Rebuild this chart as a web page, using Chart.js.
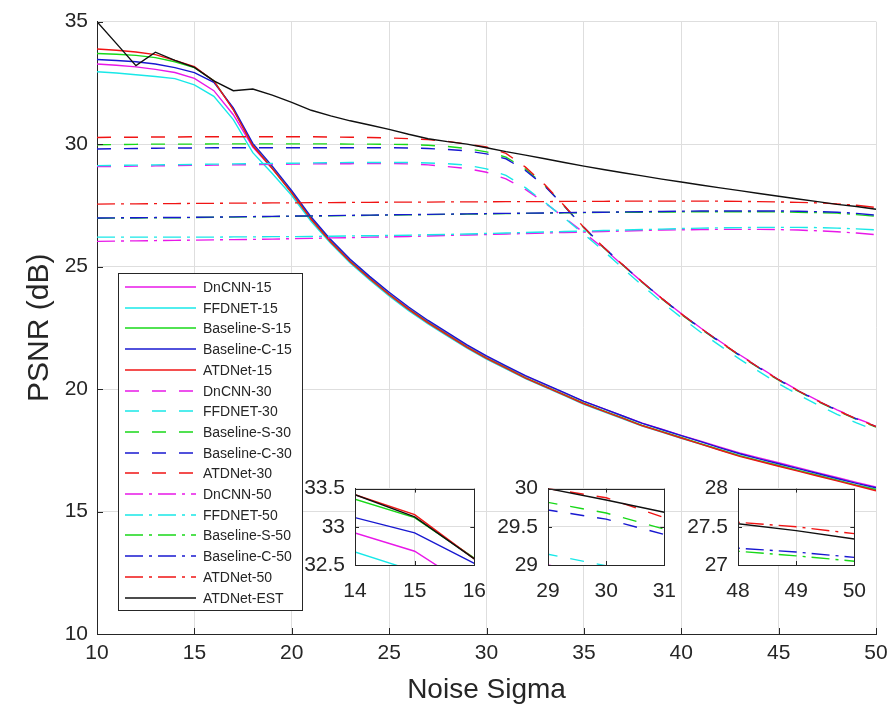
<!DOCTYPE html>
<html lang="en">
<head>
<meta charset="UTF-8">
<title>PSNR vs Noise Sigma</title>
<script src="https://cdn.jsdelivr.net/npm/chart.js"></script>
<style>
  html, body { margin: 0; padding: 0; background: #fff; }
  #wrap { position: relative; width: 896px; height: 712px; overflow: hidden; }
  #wrap canvas { position: absolute; }
</style>
</head>
<body>
<div id="wrap">
  <canvas id="main" width="896" height="712" style="left:0;top:0"></canvas>
  <canvas id="zoomA"></canvas>
  <canvas id="zoomB"></canvas>
  <canvas id="zoomC"></canvas>
</div>

<script>
// noise levels the models were tested at
const sigma = [10,11,12,13,14,15,16,17,18,19,
               20,21,22,23,24,25,26,27,28,29,
               30,31,32,33,34,35,36,37,38,39,
               40,41,42,43,44,45,46,47,48,49,50];

// models trained at sigma = 15
const dncnn15 = [33.27,33.22,33.15,33.05,32.92,32.68,32.18,31.20,29.88,29.00,
                 28.05,26.97,26.05,25.25,24.55,23.90,23.30,22.75,22.25,21.77,
                 21.32,20.92,20.53,20.18,19.83,19.50,19.20,18.90,18.61,18.36,
                 18.11,17.87,17.63,17.39,17.19,16.99,16.79,16.59,16.39,16.19,16.00];
const ffdnet15 = [32.95,32.90,32.83,32.76,32.67,32.42,31.95,31.00,29.65,28.80,
                  27.90,26.84,25.95,25.15,24.45,23.80,23.20,22.66,22.16,21.67,
                  21.22,20.82,20.43,20.08,19.73,19.38,19.08,18.78,18.49,18.24,
                  17.99,17.75,17.51,17.27,17.07,16.87,16.67,16.47,16.27,16.07,15.90];
const baseS15 = [33.70,33.67,33.62,33.53,33.36,33.12,32.59,31.42,29.95,29.02,
                 28.02,26.94,26.02,25.22,24.52,23.87,23.27,22.72,22.22,21.72,
                 21.27,20.87,20.47,20.12,19.77,19.42,19.12,18.82,18.52,18.27,
                 18.02,17.77,17.52,17.28,17.08,16.88,16.68,16.48,16.28,16.08,15.90];
const baseC15 = [33.45,33.41,33.36,33.27,33.12,32.92,32.52,31.48,30.03,29.10,
                 28.10,27.02,26.10,25.30,24.60,23.95,23.35,22.80,22.30,21.80,
                 21.35,20.95,20.55,20.20,19.85,19.50,19.20,18.90,18.60,18.35,
                 18.10,17.85,17.60,17.36,17.15,16.95,16.75,16.55,16.35,16.15,15.97];
const atd15 = [33.88,33.83,33.76,33.65,33.42,33.16,32.58,31.40,29.93,29.00,
               28.00,26.92,26.00,25.20,24.50,23.85,23.25,22.70,22.20,21.70,
               21.25,20.85,20.45,20.10,19.75,19.40,19.10,18.80,18.50,18.25,
               18.00,17.75,17.50,17.25,17.05,16.85,16.65,16.45,16.25,16.05,15.85];

// models trained at sigma = 30
const dncnn30 = [29.08,29.09,29.10,29.11,29.12,29.13,29.14,29.15,29.16,29.17,
                 29.18,29.19,29.20,29.20,29.21,29.21,29.19,29.15,29.08,29.00,
                 28.85,28.58,28.15,27.60,27.00,26.38,25.75,25.05,24.37,23.70,
                 23.08,22.49,21.94,21.40,20.89,20.40,19.95,19.54,19.15,18.80,18.50];
const ffdnet30 = [29.12,29.13,29.14,29.15,29.16,29.17,29.18,29.19,29.20,29.21,
                  29.22,29.23,29.24,29.25,29.25,29.25,29.25,29.23,29.20,29.14,
                  28.99,28.72,28.22,27.62,26.98,26.32,25.65,24.93,24.23,23.55,
                  22.92,22.32,21.76,21.22,20.71,20.22,19.77,19.36,18.97,18.62,18.30];
const baseS30 = [29.97,29.98,29.99,30.00,30.00,30.00,30.01,30.01,30.01,30.01,
                 30.01,30.01,30.01,30.00,30.00,29.99,29.98,29.95,29.90,29.82,
                 29.68,29.47,28.98,28.30,27.46,26.58,25.78,25.05,24.35,23.68,
                 23.05,22.46,21.90,21.36,20.85,20.36,19.91,19.50,19.11,18.76,18.45];
const baseC30 = [29.80,29.81,29.82,29.83,29.84,29.84,29.85,29.85,29.85,29.85,
                 29.85,29.85,29.85,29.85,29.85,29.85,29.84,29.82,29.78,29.72,
                 29.60,29.40,28.92,28.28,27.46,26.60,25.80,25.07,24.37,23.70,
                 23.07,22.48,21.92,21.38,20.87,20.38,19.93,19.52,19.13,18.78,18.47];
const atd30 = [30.27,30.28,30.28,30.29,30.29,30.30,30.30,30.30,30.30,30.30,
               30.30,30.30,30.29,30.28,30.27,30.25,30.22,30.18,30.11,30.00,
               29.88,29.62,29.06,28.34,27.48,26.60,25.80,25.07,24.37,23.70,
               23.07,22.48,21.92,21.38,20.87,20.38,19.93,19.52,19.13,18.78,18.47];

// models trained at sigma = 50
const dncnn50 = [26.03,26.04,26.05,26.06,26.07,26.08,26.09,26.10,26.11,26.12,
                 26.14,26.15,26.17,26.18,26.20,26.21,26.23,26.25,26.27,26.29,
                 26.31,26.33,26.35,26.37,26.39,26.41,26.43,26.45,26.47,26.49,
                 26.50,26.51,26.52,26.52,26.52,26.51,26.49,26.46,26.42,26.37,26.30];
const ffdnet50 = [26.20,26.20,26.20,26.20,26.20,26.20,26.20,26.21,26.21,26.22,
                  26.22,26.23,26.24,26.25,26.26,26.27,26.28,26.30,26.31,26.33,
                  26.35,26.37,26.39,26.41,26.43,26.45,26.47,26.49,26.51,26.53,
                  26.55,26.57,26.58,26.59,26.60,26.60,26.60,26.59,26.57,26.54,26.50];
const baseS50 = [26.97,26.98,26.98,26.99,26.99,27.00,27.01,27.02,27.03,27.04,
                 27.05,27.06,27.07,27.08,27.09,27.10,27.11,27.12,27.13,27.14,
                 27.15,27.16,27.17,27.18,27.19,27.20,27.21,27.22,27.22,27.23,
                 27.23,27.24,27.24,27.24,27.24,27.23,27.22,27.20,27.18,27.12,27.05];
const baseC50 = [26.98,26.99,26.99,27.00,27.00,27.01,27.02,27.03,27.04,27.05,
                 27.06,27.07,27.08,27.09,27.10,27.11,27.12,27.13,27.14,27.15,
                 27.16,27.17,27.18,27.19,27.20,27.21,27.22,27.23,27.24,27.25,
                 27.26,27.27,27.27,27.27,27.27,27.27,27.26,27.24,27.22,27.17,27.10];
const atd50 = [27.55,27.56,27.56,27.57,27.57,27.58,27.58,27.59,27.59,27.60,
               27.60,27.61,27.61,27.62,27.62,27.63,27.63,27.63,27.64,27.64,
               27.64,27.65,27.65,27.65,27.66,27.66,27.66,27.67,27.67,27.67,
               27.67,27.67,27.67,27.66,27.65,27.64,27.62,27.60,27.56,27.50,27.41];

// ATDNet with estimated noise level
const atdEst = [35.00,34.10,33.20,33.75,33.42,33.13,32.58,32.18,32.25,32.00,
                31.70,31.38,31.15,30.95,30.78,30.60,30.40,30.22,30.10,30.00,
                29.85,29.69,29.55,29.40,29.25,29.10,28.96,28.83,28.70,28.57,
                28.45,28.33,28.21,28.10,27.98,27.87,27.76,27.65,27.54,27.45,27.34];

const xTicksMain = [10, 50, 5];
const yTicksMain = [10, 35, 5];

// ---- styles ----
const FONT = '"Liberation Sans", Arial, Helvetica, sans-serif';
const TXT = '#262626';
const GRID = '#dedede';
const MAG = '#e818e8', CYA = '#18e8e8', GRN = '#18d818', BLU = '#1818d0', RED = '#f01414', BLK = '#101010';
const SOLID = [], DASH = [14, 13], DASHDOT = [18, 6, 3, 6];
const LW = 1.4;

const series = [
  { label: 'DnCNN-15',      values: dncnn15,  color: MAG, dash: SOLID },
  { label: 'FFDNET-15',     values: ffdnet15, color: CYA, dash: SOLID },
  { label: 'Baseline-S-15', values: baseS15,  color: GRN, dash: SOLID },
  { label: 'Baseline-C-15', values: baseC15,  color: BLU, dash: SOLID },
  { label: 'ATDNet-15',     values: atd15,    color: RED, dash: SOLID },
  { label: 'DnCNN-30',      values: dncnn30,  color: MAG, dash: DASH },
  { label: 'FFDNET-30',     values: ffdnet30, color: CYA, dash: DASH },
  { label: 'Baseline-S-30', values: baseS30,  color: GRN, dash: DASH },
  { label: 'Baseline-C-30', values: baseC30,  color: BLU, dash: DASH },
  { label: 'ATDNet-30',     values: atd30,    color: RED, dash: DASH },
  { label: 'DnCNN-50',      values: dncnn50,  color: MAG, dash: DASHDOT },
  { label: 'FFDNET-50',     values: ffdnet50, color: CYA, dash: DASHDOT },
  { label: 'Baseline-S-50', values: baseS50,  color: GRN, dash: DASHDOT },
  { label: 'Baseline-C-50', values: baseC50,  color: BLU, dash: DASHDOT },
  { label: 'ATDNet-50',     values: atd50,    color: RED, dash: DASHDOT },
  { label: 'ATDNet-EST',    values: atdEst,   color: BLK, dash: SOLID }
];

function buildDatasets() {
  return series.map((s, i) => ({
    label: s.label,
    data: sigma.map((x, k) => ({ x: x, y: s.values[k] })),
    borderColor: s.color,
    backgroundColor: s.color,
    borderDash: s.dash,
    borderWidth: LW,
    pointRadius: 0,
    tension: 0,
    fill: false,
    order: series.length - i   // later series end up on top
  }));
}

// 33.0 -> "33", 32.5 -> "32.5"
const shortNum = v => String(Math.round(v * 10) / 10);

// MATLAB-style ticks pointing into the axes, optional full box
const inwardTicks = {
  id: 'inwardTicks',
  beforeDraw(chart, args, opts) {
    if (!opts.box) return;
    const a = chart.chartArea, ctx = chart.ctx;
    ctx.save();
    ctx.fillStyle = '#fff';
    ctx.fillRect(a.left, a.top, a.right - a.left, a.bottom - a.top);
    ctx.restore();
  },
  afterDatasetsDraw(chart, args, opts) {
    const { ctx, chartArea: a, scales: { x, y } } = chart;
    const len = opts.len || 6;
    ctx.save();
    ctx.strokeStyle = TXT;
    ctx.lineWidth = 1;
    ctx.beginPath();
    x.ticks.forEach(t => {
      const px = Math.round(x.getPixelForValue(t.value)) + 0.5;
      ctx.moveTo(px, a.bottom); ctx.lineTo(px, a.bottom - len);
      if (opts.box) { ctx.moveTo(px, a.top); ctx.lineTo(px, a.top + len); }
    });
    y.ticks.forEach(t => {
      const py = Math.round(y.getPixelForValue(t.value)) + 0.5;
      ctx.moveTo(a.left, py); ctx.lineTo(a.left + len, py);
      if (opts.box) { ctx.moveTo(a.right, py); ctx.lineTo(a.right - len, py); }
    });
    ctx.stroke();
    if (opts.box) {
      ctx.strokeRect(Math.round(a.left) + 0.5, Math.round(a.top) + 0.5,
                     Math.round(a.right - a.left), Math.round(a.bottom - a.top));
    }
    ctx.restore();
  }
};

// boxed legend in the lower-left of the main axes
const boxLegend = {
  id: 'boxLegend',
  afterDraw(chart, args, opts) {
    const ctx = chart.ctx;
    const sets = chart.data.datasets;
    const bx = opts.x, by = opts.y, bw = opts.w, bh = opts.h;
    ctx.save();
    ctx.fillStyle = '#fff';
    ctx.fillRect(bx, by, bw, bh);
    ctx.strokeStyle = TXT;
    ctx.lineWidth = 1;
    ctx.strokeRect(bx + 0.5, by + 0.5, bw, bh);
    ctx.font = '14px ' + FONT;
    ctx.textBaseline = 'middle';
    sets.forEach((d, i) => {
      const yy = Math.round(opts.firstRow + i * opts.rowStep);
      ctx.strokeStyle = d.borderColor;
      ctx.lineWidth = LW;
      ctx.setLineDash(d.borderDash);
      ctx.beginPath();
      ctx.moveTo(bx + 7, yy);
      ctx.lineTo(bx + 78, yy);
      ctx.stroke();
      ctx.setLineDash([]);
      ctx.fillStyle = TXT;
      ctx.fillText(d.label, bx + 85, yy + 1);
    });
    ctx.restore();
  }
};

Chart.defaults.font.family = FONT;
Chart.defaults.color = TXT;

new Chart(document.getElementById('main'), {
  type: 'line',
  data: { datasets: buildDatasets() },
  plugins: [inwardTicks, boxLegend],
  options: {
    responsive: false,
    animation: false,
    devicePixelRatio: 1,
    layout: { padding: { top: 17, right: 20, left: 0, bottom: 0 } },
    plugins: {
      legend: { display: false },
      tooltip: { enabled: false },
      inwardTicks: { len: 6, box: false },
      boxLegend: { x: 118, y: 273, w: 184, h: 337, firstRow: 287, rowStep: 20.7 }
    },
    scales: {
      x: {
        type: 'linear', min: xTicksMain[0], max: xTicksMain[1],
        ticks: { stepSize: xTicksMain[2], padding: 7, maxRotation: 0, font: { size: 21 }, color: TXT },
        grid: { color: GRID, drawTicks: false },
        border: { color: TXT },
        title: { display: true, text: 'Noise Sigma', font: { size: 28 }, color: TXT, padding: { top: 0, bottom: 5 } },
        afterFit(s) { s.height = 78; }
      },
      y: {
        type: 'linear', min: yTicksMain[0], max: yTicksMain[1],
        ticks: { stepSize: yTicksMain[2], padding: 9, font: { size: 21 }, color: TXT },
        grid: { color: GRID, drawTicks: false },
        border: { color: TXT },
        title: { display: true, text: 'PSNR (dB)', font: { size: 30 }, color: TXT, padding: { top: 22, bottom: 0 } },
        afterFit(s) { s.width = 97; }
      }
    }
  }
});

// zoomed views: [x range], [y range], box on the page
const insets = [
  { id: 'zoomA', x: [14, 16], y: [32.5, 33.5], box: [355, 476, 478, 565], yw: 52 },
  { id: 'zoomB', x: [29, 31], y: [29, 30],     box: [548, 476, 668, 565], yw: 58 },
  { id: 'zoomC', x: [48, 50], y: [27, 28],     box: [738, 476, 858, 565], yw: 58 }
];

insets.forEach(z => {
  const [l, t, r, b] = z.box;
  const cv = document.getElementById(z.id);
  const L = l - z.yw, T = t - 10, W = r + 22 - L, H = b + 41 - T;
  cv.width = W; cv.height = H;
  cv.style.left = L + 'px'; cv.style.top = T + 'px';
  new Chart(cv, {
    type: 'line',
    data: { datasets: buildDatasets() },
    plugins: [inwardTicks],
    options: {
      responsive: false,
      animation: false,
      devicePixelRatio: 1,
      layout: { padding: { top: 10, right: 22, left: 0, bottom: 0 } },
      plugins: { legend: { display: false }, tooltip: { enabled: false }, inwardTicks: { len: 4, box: true } },
      scales: {
        x: {
          type: 'linear', min: z.x[0], max: z.x[1],
          ticks: { stepSize: 1, padding: 14, autoSkip: false, maxRotation: 0, font: { size: 21 }, color: TXT, callback: shortNum },
          grid: { color: GRID, drawTicks: false },
          border: { color: TXT },
          afterFit(s) { s.height = 41; }
        },
        y: {
          type: 'linear', min: z.y[0], max: z.y[1],
          ticks: { stepSize: 0.5, padding: 10, autoSkip: false, font: { size: 21 }, color: TXT, callback: shortNum },
          grid: { color: GRID, drawTicks: false },
          border: { color: TXT },
          afterFit(s) { s.width = z.yw; }
        }
      }
    }
  });
});
</script>
</body>
</html>
